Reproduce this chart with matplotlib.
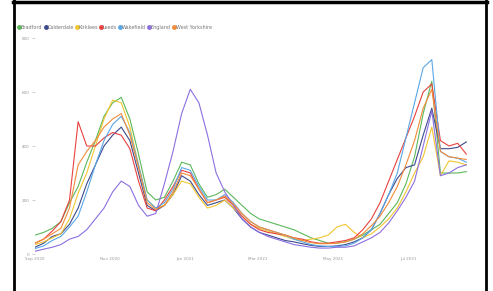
import pandas as pd
import matplotlib.pyplot as plt
import matplotlib.dates as mdates
from matplotlib.lines import Line2D

# weekly case rates per 100k (from 1 Sep 2020)
dates = pd.date_range("2020-09-01", periods=51, freq="7D")

bradford = [70, 80, 95, 120, 190, 250, 340, 420, 510, 560, 580, 500, 370,
            230, 200, 210, 270, 340, 330, 260, 210, 220,
            240, 210, 180, 150, 130, 120, 110, 100, 90, 75, 60, 50, 40, 40,
            45, 55, 70, 90, 110, 150,
            190, 260, 360, 520, 640, 300, 300, 300, 305]
calderdale = [25, 40, 65, 75, 110, 170, 260, 330, 400, 440, 470, 420, 300,
              180, 160, 180, 220, 290, 270, 220, 180, 190,
              200, 170, 130, 100, 80, 70, 60, 50, 45, 38, 32, 28, 28, 30,
              35, 45, 60, 90, 150, 220,
              280, 320, 330, 440, 540, 390, 390, 395, 415]
kirklees = [35, 45, 60, 75, 130, 225, 300, 400, 500, 570, 560, 470, 330,
            200, 170, 180, 220, 270, 260, 210, 170, 180,
            200, 170, 140, 110, 95, 85, 75, 65, 55, 50, 55, 60, 70, 100,
            110, 80, 60, 75, 100, 130,
            170, 230, 300, 360, 470, 290, 345, 340, 330]
leeds = [40, 55, 85, 120, 200, 490, 400, 400, 430, 450, 440, 390, 270,
         170, 160, 200, 250, 310, 300, 240, 190, 200,
         210, 180, 140, 110, 90, 80, 75, 70, 60, 55, 45, 40, 40, 45,
         50, 60, 90, 130, 190, 270,
         350, 430, 510, 600, 630, 420, 400, 410, 370]
wakefield = [20, 30, 50, 65, 100, 140, 230, 330, 420, 480, 510, 450, 330,
             200, 170, 190, 240, 320, 310, 250, 200, 200,
             220, 190, 150, 120, 100, 90, 80, 70, 55, 45, 35, 30, 28, 28,
             30, 40, 60, 90, 150, 220,
             300, 430, 560, 690, 720, 380, 360, 355, 340]
england = [10, 18, 25, 35, 55, 65, 90, 130, 170, 230, 270, 250, 180,
           140, 150, 260, 380, 520, 610, 560, 440, 300,
           230, 180, 130, 100, 80, 65, 55, 45, 35, 30, 25, 22, 22, 25,
           25, 30, 45, 60, 80, 115,
           160, 210, 270, 400, 530, 290, 300, 320, 330]
west_yorkshire = [40, 55, 75, 95, 170, 330, 380, 420, 470, 500, 520, 440, 320,
                  190, 165, 180, 230, 300, 290, 240, 190, 200,
                  215, 185, 150, 120, 100, 90, 80, 70, 60, 50, 42, 38, 38, 40,
                  45, 55, 75, 105, 140, 190,
                  250, 330, 420, 540, 610, 380, 360, 355, 350]

names = ["Bradford", "Calderdale", "Kirklees", "Leeds", "Wakefield",
         "England", "West Yorkshire"]
series = [bradford, calderdale, kirklees, leeds, wakefield, england, west_yorkshire]
colors = ["#5cb85c", "#3d4a8c", "#f2c530", "#e8423f", "#5aa7e6",
          "#8c6fe0", "#f28c3a"]

fig = plt.figure(figsize=(4.93, 2.91), dpi=100)
ax = fig.add_axes([35 / 493, 1 - 254 / 291, 435 / 493, 216 / 291])

for name, vals, c in zip(names, series, colors):
    ax.plot(dates, vals, color=c, lw=0.8, label=name)

ax.set_xlim(pd.Timestamp("2020-09-01"), pd.Timestamp("2021-08-20"))
ax.set_ylim(0, 800)
ax.set_yticks([0, 200, 400, 600, 800])
ax.set_yticklabels(["0", "200", "400", "600", "800"])
ax.xaxis.set_major_locator(mdates.MonthLocator(bymonth=[1, 3, 5, 7, 9, 11]))
ax.xaxis.set_major_formatter(mdates.DateFormatter("%b %Y"))
ax.tick_params(axis="x", labelsize=3, colors="#999999", length=0, pad=2)
ax.tick_params(axis="y", labelsize=3, colors="#aaaaaa", labelcolor="#999999",
               length=2.2, width=0.4, pad=2)
for s in ax.spines.values():
    s.set_visible(False)

handles = [Line2D([], [], marker="o", ls="", color=c, markersize=2.5) for c in colors]
fig.legend(handles, names, loc="upper left", bbox_to_anchor=(18 / 493, 1 - 25 / 291),
           ncol=7, frameon=False, fontsize=3.5, handlelength=0.5,
           handletextpad=0.1, columnspacing=0.4, labelcolor="#777777",
           borderaxespad=0, borderpad=0)

# black frame around the card (left, right, top)
fig.add_artist(Line2D([14 / 493, 14 / 493], [0, 1], color="black", lw=2))
fig.add_artist(Line2D([485.5 / 493, 485.5 / 493], [0, 1], color="black", lw=2))
fig.add_artist(Line2D([13 / 493, 487 / 493], [1 - 1.5 / 291, 1 - 1.5 / 291],
                      color="black", lw=2.5))

fig.savefig("out.png", dpi=100)
